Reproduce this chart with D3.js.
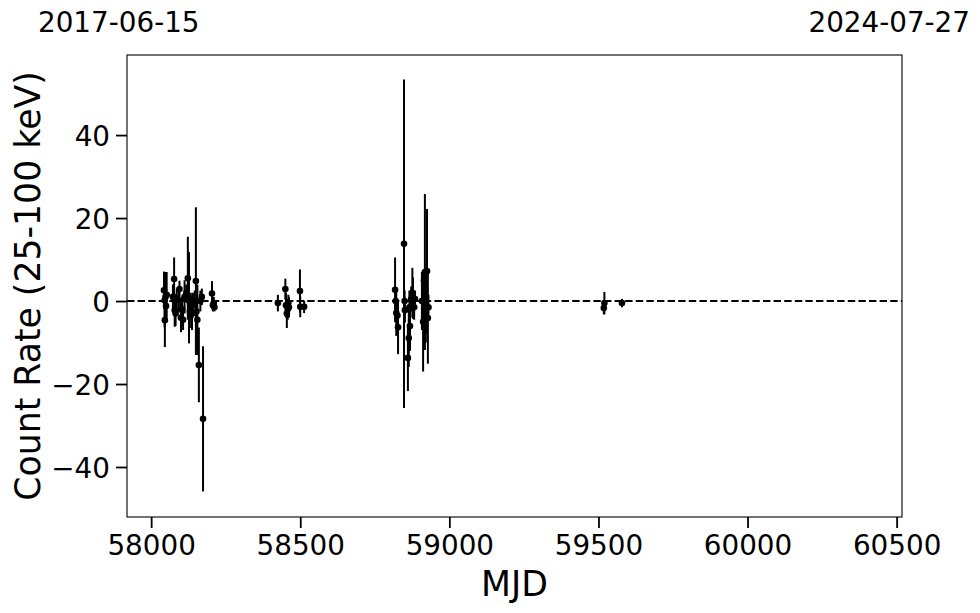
<!DOCTYPE html>
<html><head><meta charset="utf-8">
<script src="https://cdn.jsdelivr.net/npm/d3@7"></script>
<style>body{margin:0;background:#fff}svg text{font-family:"DejaVu Sans",sans-serif}</style>
</head><body>
<svg id="c" width="980" height="613"></svg>
<script>
const mjd = [58043,58045,58046,58048,58050,58052,58073,58077,58079,58082,58086,58093,58095,58100,58104,58107,58112,58118,58123,58125,58127,58130,58133,58137,58140,58146,58150,58152,58155,58160,58165,58170,58174,58204,58207,58210,58212,
58425,58450,58452,58455,58458,58460,58462,58499,58500,58513,
58818,58820,58822,58826,58828,58848,58850,58851,58861,58864,58866,58868,58872,58876,58878,58882,58885,58908,58912,58915,58918,58921,58925,58928,58930,
59518,59520,59579];
const rate = [2.6,0.2,-4.6,1.0,-1.2,1.5,1.0,5.3,-2.2,-3.0,0.5,0.2,2.9,-4.0,-2.0,-4.5,1.0,2.0,5.5,0.2,0.8,-2.5,-1.0,-3.0,-1.0,0.5,4.8,-2.5,-4.5,-15.4,0.0,1.0,-28.4,1.8,-1.0,-0.5,-1.5,
-0.5,2.9,-1.0,-3.0,-2.0,-0.5,-1.5,2.4,-1.4,-1.4,
2.7,0.0,-2.9,-3.5,-6.3,13.8,0.0,-2.2,-13.7,-8.9,-1.5,-6.0,0.5,2.0,0.7,-1.5,0.5,0.0,-5.0,5.0,7.0,-2.0,7.2,-4.1,-1.5,
-1.7,-0.5,-0.5];
const err = [4.5,6.5,6.5,6.0,3,5.5,3,5.2,4,3,2.5,3,2,3.5,3,2.5,4,2,10,4,11,4,3,4,3,2,17.8,3.5,8.5,9,2.5,2,17.5,3,1.5,1.5,1,
2.0,2.5,3.0,3.5,2.5,2.0,2.5,5.2,2.5,1.5,
7.8,2.5,5.5,4,6.5,39.6,2.5,3,8,7,4,6,3,6,5,3,2,7,12,2,18.8,8,15,11,3,
1.5,2.7,1.0];
const xTicks = [58000,58500,59000,59500,60000,60500];
const yTicks = [-40,-20,0,20,40];
const dateLabels = ["2017-06-15","2024-07-27"];
const xLabel = "MJD", yLabel = "Count Rate (25-100 keV)";

const svg = d3.select("#c");
const L=127,R=902,T=55,B=517;
const x = d3.scaleLinear().domain([57919,60518]).range([L,R]);
const y = d3.scaleLinear().domain([-52.05,59.3]).range([B,T]);
const fmt = d => (d<0?"\u2212":"")+Math.abs(d);

const gx = svg.append("g").attr("transform",`translate(0,${B})`)
  .call(d3.axisBottom(x).tickValues(xTicks).tickFormat(d=>d).tickSize(11).tickPadding(5));
const gy = svg.append("g").attr("transform",`translate(${L},0)`)
  .call(d3.axisLeft(y).tickValues(yTicks).tickFormat(fmt).tickSize(11).tickPadding(6));
[gx,gy].forEach(g=>{
  g.select(".domain").remove();
  g.selectAll("line").attr("stroke","#000").attr("stroke-width",1.8);
  g.selectAll("text").attr("font-size",27.8).attr("fill","#000").attr("font-family","DejaVu Sans");
});
gy.selectAll("text").attr("dy","0.36em");
gx.selectAll("text").attr("dy","0.8em");

// zero line
svg.append("line").attr("x1",L).attr("x2",R).attr("y1",y(0)).attr("y2",y(0))
  .attr("stroke","#000").attr("stroke-width",2).attr("stroke-dasharray","7.4,3.2");

const data = mjd.map((m,i)=>({m,r:rate[i],e:err[i]}));
const g = svg.append("g");
g.selectAll("line.eb").data(data).join("line").attr("class","eb")
  .attr("x1",d=>x(d.m)).attr("x2",d=>x(d.m))
  .attr("y1",d=>y(d.r-d.e)).attr("y2",d=>y(d.r+d.e))
  .attr("stroke","#000").attr("stroke-width",2);
g.selectAll("circle").data(data).join("circle")
  .attr("cx",d=>x(d.m)).attr("cy",d=>y(d.r)).attr("r",3.3).attr("fill","#000");

svg.append("rect").attr("x",L).attr("y",T).attr("width",R-L).attr("height",B-T)
  .attr("fill","none").attr("stroke","#000").attr("stroke-width",1.1);

svg.append("text").attr("x",38).attr("y",32).attr("font-size",27.8).text(dateLabels[0]);
svg.append("text").attr("x",970).attr("y",32).attr("text-anchor","end").attr("font-size",27.8).text(dateLabels[1]);

svg.append("text").attr("x",(L+R)/2).attr("y",596).attr("text-anchor","middle").attr("font-size",34.7).text(xLabel);
svg.append("text").attr("transform",`translate(40,${(T+B)/2}) rotate(-90)`).attr("text-anchor","middle").attr("font-size",34.7).text(yLabel);
</script>
</body></html>
